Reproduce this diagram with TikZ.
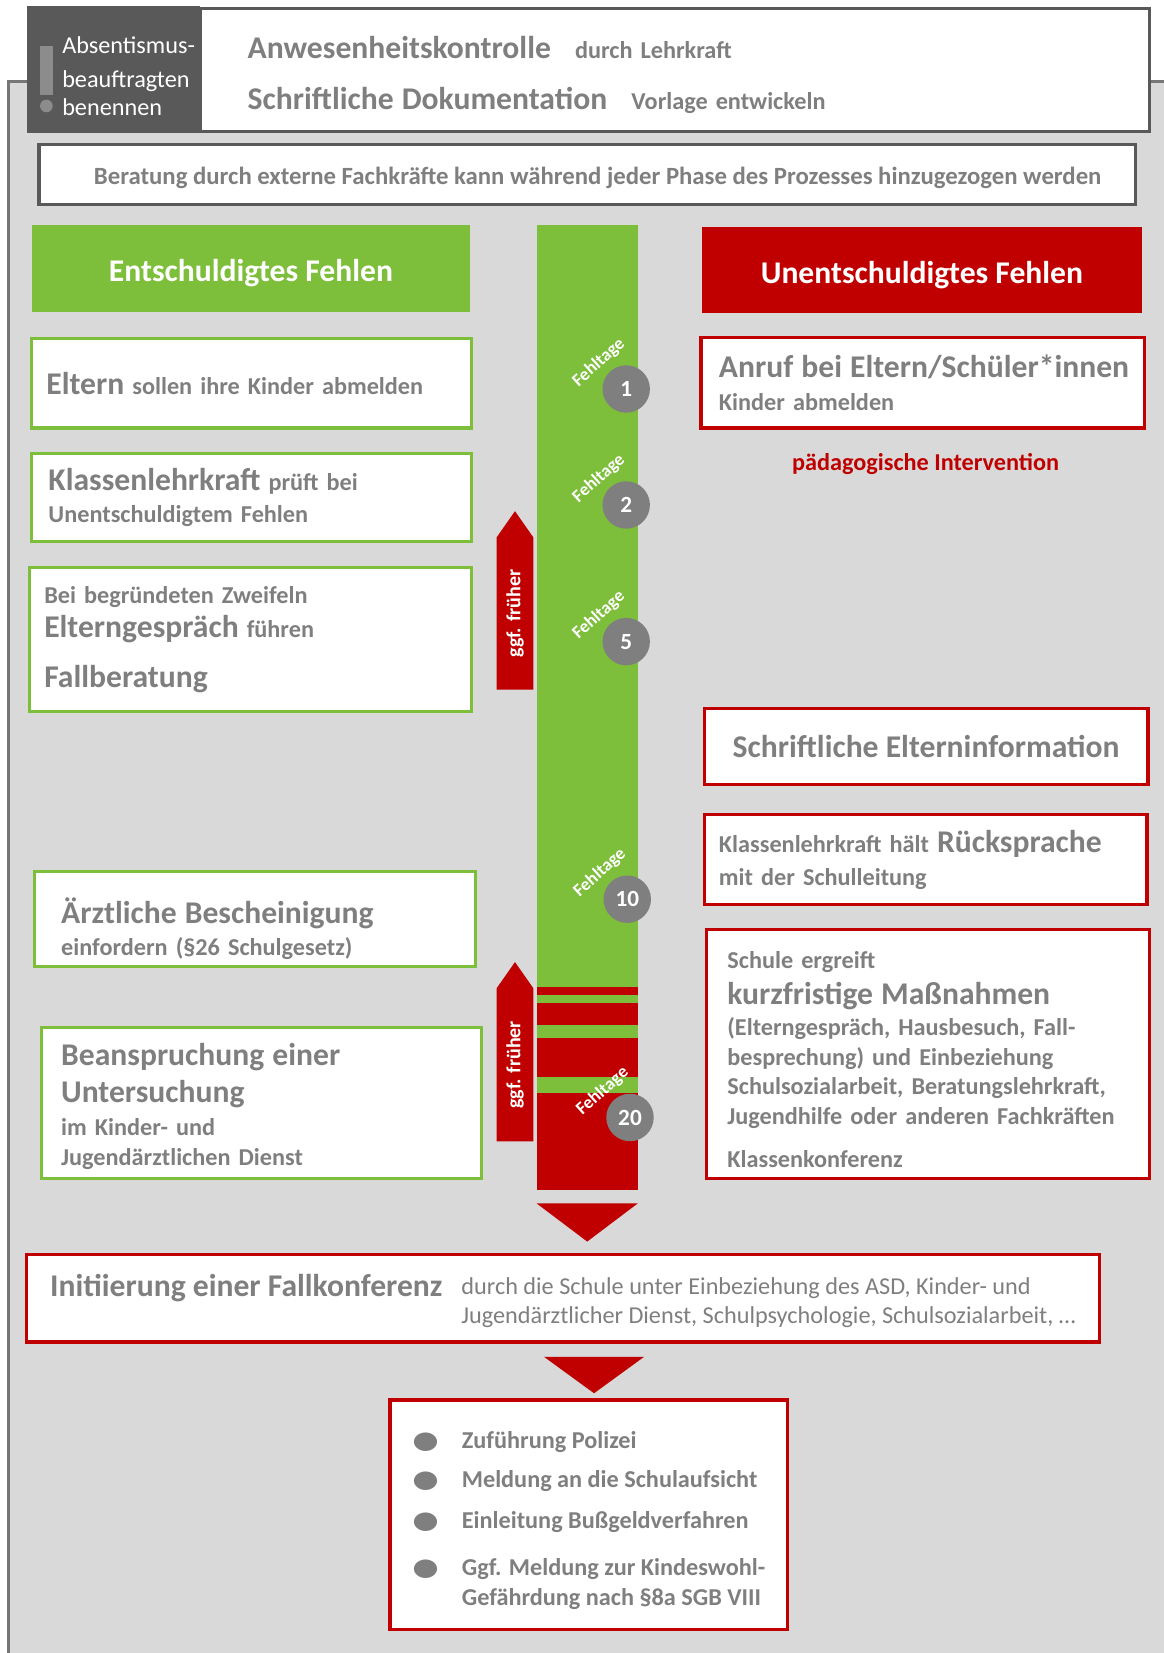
\documentclass[tikz,border=0pt]{standalone}
\usepackage{fontspec}
\setmainfont{Carlito}
\newfontfamily\dotfont{DejaVu Sans}
\usetikzlibrary{shapes.arrows}
\definecolor{okgreen}{HTML}{7DBE3A}
\definecolor{okred}{HTML}{C00000}
\definecolor{txtgray}{HTML}{7F7F7F}
\definecolor{panelgray}{HTML}{D9D9D9}
\definecolor{framegray}{HTML}{595959}
\definecolor{linegray}{HTML}{767676}
\definecolor{markgray}{HTML}{8C8C8C}
\newcommand{\bigtx}[1]{{\fontsize{15}{18}\selectfont #1}}
\newcommand{\bul}{\scalebox{1.25}[1.0]{\dotfont ●}}
\tikzset{
  basetext/.style={font=\bfseries\fontsize{11.5}{14}\selectfont,text=txtgray},
  framebox/.style={basetext,draw=framegray,line width=1.5pt,fill=white},
  headbox/.style={font=\bfseries\fontsize{15}{18}\selectfont,text=white,inner sep=0pt,text height=15.5pt},
  gbox/.style={basetext,draw=okgreen,line width=1.5pt,fill=white,align=left,inner xsep=0pt},
  rbox/.style={basetext,draw=okred,line width=1.5pt,fill=white,align=left,inner xsep=0pt},
  daycirc/.style={circle,fill=txtgray,minimum size=22.5pt,inner sep=0pt,text=white,font=\bfseries\fontsize{11}{13}\selectfont},
  daylabel/.style={rotate=42,text=white,inner sep=0pt,font=\bfseries\fontsize{8.5}{10}\selectfont},
  earlyarrow/.style={single arrow,single arrow head extend=0pt,single arrow tip angle=70,fill=okred,rotate=90,anchor=tail,
    minimum width=17.5pt,inner sep=0pt,text=white,font=\bfseries\fontsize{9.5}{11}\selectfont},
}

\begin{document}
\begin{tikzpicture}[x=0.5pt,y=-0.5pt]
  \useasboundingbox (0,0) rectangle (1104,1568);
  \fill[white] (0,0) rectangle (1104,1568);
  \fill[panelgray] (8,77) rectangle (1104,1568);
  \draw[linegray,line width=1.5pt] (8,1568) -- (8,77) -- (1104,77);

  \node[fill=framegray,minimum width=82pt,minimum height=60pt,inner sep=0pt,text=white,font=\fontsize{11.5}{13.5}\selectfont] (absb) at (108,66)
    {\begin{tabular}{@{\hspace{14pt}}l@{}}\rule{0pt}{18.5pt}Absentismus-\\[2.5pt]beauftragten\\benennen\end{tabular}};
  \fill[markgray] (38,44) rectangle (50,90);
  \fill[markgray] (44,100.5) circle (3pt);
  \node[framebox,minimum width=450pt,minimum height=58.5pt,text width=405pt,align=left,inner xsep=0pt,text height=15pt] (kontr) at (640,66.5)
    {\bigtx{Anwesenheitskontrolle}\quad durch Lehrkraft\\[10.5pt]\bigtx{Schriftliche Dokumentation}\quad Vorlage entwickeln};
  \node[framebox,minimum width=520pt,minimum height=28.5pt,font=\bfseries\fontsize{11.75}{14}\selectfont,text height=11.3pt] (berat) at (557,165.5)
    {\hspace*{10pt}Beratung durch externe Fachkräfte kann während jeder Phase des Prozesses hinzugezogen werden};

  \node[headbox,fill=okgreen,minimum width=208pt,minimum height=41.5pt] (enthead) at (238,254.5) {Entschuldigtes Fehlen};
  \node[headbox,fill=okred,minimum width=208.5pt,minimum height=41pt] (unhead) at (874.5,256) {Unentschuldigtes Fehlen};

  % Fehltage-Leiste
  \fill[okgreen] (509,213) rectangle (605,936);
  \fill[okred] (509,936) rectangle (605,1128.7);
  \foreach \ya/\yb in {944/951.6,972.2/984.9,1021.2/1037}
    \fill[okgreen] (509,\ya) rectangle (605,\yb);
  \fill[okred] (509,1141.5) -- (605,1141.5) -- (557,1177.7) -- cycle;
  \foreach \n/\x/\y in {1/594/369,2/594/479,5/594/608.6,10/595/853,20/597.6/1060}{
    \node[daylabel] (tag\n) at (\x-26,\y-25) {Fehltage};
    \node[daycirc] (day\n) at (\x,\y) {\n};
  }
  \node[earlyarrow,minimum height=84.6pt] (early1) at (488.5,654.5) {ggf. früher};
  \node[earlyarrow,minimum height=85pt] (early2) at (488.5,1083) {ggf. früher};

  \node[gbox,minimum width=208.5pt,minimum height=42.5pt,text width=194.5pt] (eltern) at (238.5,363.5)
    {\bigtx{Eltern} sollen ihre Kinder abmelden};
  \node[gbox,minimum width=208.5pt,minimum height=42pt,text width=192.5pt] (kpruef) at (238.5,472)
    {\bigtx{Klassenlehrkraft} prüft bei\\[1pt]Unentschuldigtem Fehlen};
  \node[gbox,minimum width=209.5pt,minimum height=68.5pt,text width=195.5pt] (zweifel) at (237.5,606.5)
    {Bei begründeten Zweifeln\\[2.5pt]\bigtx{Elterngespräch} führen\\[9.5pt]\bigtx{Fallberatung}};
  \node[gbox,minimum width=209pt,minimum height=43pt,text width=184pt,text height=21pt] (attest) at (242,872)
    {\bigtx{Ärztliche Bescheinigung}\\[1.5pt]einfordern (§26 Schulgesetz)};
  \node[gbox,minimum width=209pt,minimum height=71.5pt,text width=190pt,text height=13.5pt] (unters) at (248,1046.5)
    {\bigtx{Beanspruchung einer}\\[3.5pt]\bigtx{Untersuchung}\\[2pt]im Kinder- und\\Jugendärztlichen Dienst};

  \node[rbox,minimum width=210.5pt,minimum height=43pt,text width=193.5pt] (anruf) at (875.5,363)
    {\mbox{\bigtx{Anruf bei Eltern/Schüler*innen}}\\[2pt]Kinder abmelden};
  \node[basetext,text=okred] (paedint) at (878,440) {pädagogische Intervention};
  \node[rbox,minimum width=210.5pt,minimum height=36pt,align=center] (elinfo) at (878.5,708)
    {\bigtx{Schriftliche Elterninformation}};
  \node[rbox,minimum width=210pt,minimum height=42.5pt,text width=196pt] (rueck) at (878,815.5)
    {Klassenlehrkraft hält \bigtx{Rücksprache}\\[1.5pt]mit der Schulleitung};
  \node[rbox,minimum width=210pt,minimum height=118pt,text width=190pt,text height=13pt] (massn) at (880,1000)
    {Schule ergreift\\[3pt]\bigtx{kurzfristige Maßnahmen}\\[1pt](Elterngespräch, Hausbesuch, Fall-\\besprechung) und Einbeziehung\\
     Schulsozialarbeit, Beratungslehrkraft,\\Jugendhilfe oder anderen Fachkräften\\[6.5pt]Klassenkonferenz};

  \node[rbox,minimum width=509pt,minimum height=41.5pt,text height=14.5pt] (fallk) at (534,1231.5)
    {\raisebox{-1pt}{\bigtx{Initiierung einer Fallkonferenz}}\hspace{9pt}{\mdseries\begin{tabular}[t]{@{}l@{}}durch die Schule unter Einbeziehung des ASD, Kinder- und\\
     Jugendärztlicher Dienst, Schulpsychologie, Schulsozialarbeit, …\end{tabular}}};
  \fill[okred] (516,1287) -- (611,1287) -- (563.5,1321.6) -- cycle;

  \node[rbox,minimum width=188.5pt,minimum height=109pt,font=\bfseries\fontsize{11.5}{14.5}\selectfont] (folgen) at (558.5,1437)
    {\begin{tabular}{@{}p{23.5pt}@{}l@{}}\bul & \rule{0pt}{16.2pt}Zuführung Polizei\\[4pt]\bul & Meldung an die Schulaufsicht\\[5pt]
     \bul & Einleitung Bußgeldverfahren\\[7.5pt]\bul & Ggf. Meldung zur Kindeswohl-\\ & Gefährdung nach §8a SGB VIII\end{tabular}};
\end{tikzpicture}
\end{document}
